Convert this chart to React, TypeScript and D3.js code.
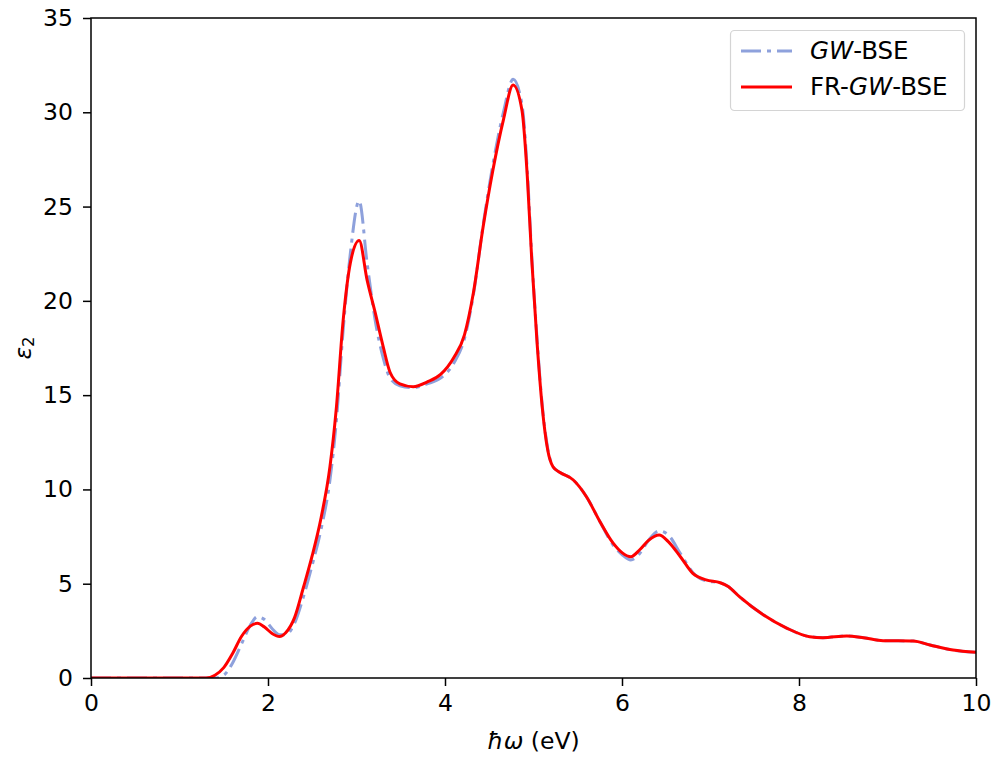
import { useEffect, useRef } from "react";
import * as d3 from "d3";

// photon energy grid (eV)
const energy = [0, 1.0, 1.3, 1.4, 1.5, 1.6, 1.7, 1.8, 1.88, 1.96, 2.05, 2.13, 2.2, 2.3, 2.4, 2.5, 2.6, 2.7, 2.77, 2.85, 2.93, 3.03, 3.12, 3.21, 3.3, 3.38, 3.49, 3.64, 3.8, 3.95, 4.1, 4.22, 4.32, 4.43, 4.54, 4.66, 4.77, 4.87, 4.93, 4.98, 5.04, 5.1, 5.16, 5.22, 5.3, 5.45, 5.6, 5.75, 5.9, 6.0, 6.1, 6.2, 6.3, 6.42, 6.52, 6.66, 6.8, 6.95, 7.11, 7.2, 7.33, 7.6, 7.86, 8.12, 8.27, 8.54, 8.73, 8.95, 9.29, 9.48, 9.74, 10]

// GW-BSE eps2
const gwBse = [0, 0, 0, 0, 0.15, 0.8, 1.8, 2.8, 3.25, 3.1, 2.6, 2.3, 2.3, 2.9, 4.3, 6.0, 7.9, 10.5, 13.5, 18.5, 22.5, 25.3, 22.0, 19.0, 17.0, 15.9, 15.5, 15.4, 15.6, 15.9, 16.7, 18.0, 20.3, 24.0, 27.2, 30.0, 31.75, 30.4, 26.9, 22.4, 18.0, 14.4, 12.2, 11.2, 10.9, 10.5, 9.6, 8.3, 7.05, 6.55, 6.26, 6.6, 7.3, 7.8, 7.6, 6.6, 5.6, 5.15, 5.05, 4.85, 4.3, 3.34, 2.65, 2.19, 2.14, 2.23, 2.14, 1.98, 1.96, 1.75, 1.48, 1.36]

// FR-GW-BSE eps2
const frGwBse = [0, 0, 0, 0.15, 0.55, 1.3, 2.2, 2.75, 2.9, 2.7, 2.35, 2.2, 2.4, 3.2, 4.8, 6.5, 8.5, 11.2, 14.2, 19.0, 22.0, 23.2, 21.1, 19.4, 17.6, 16.2, 15.6, 15.45, 15.7, 16.1, 17.0, 18.2, 20.4, 23.9, 26.9, 29.6, 31.45, 30.1, 26.6, 22.2, 17.8, 14.3, 12.1, 11.2, 10.9, 10.5, 9.6, 8.3, 7.15, 6.65, 6.43, 6.8, 7.3, 7.58, 7.25, 6.43, 5.55, 5.2, 5.05, 4.85, 4.3, 3.34, 2.65, 2.19, 2.14, 2.23, 2.14, 1.98, 1.96, 1.75, 1.48, 1.36]

const xTicks = [0, 2, 4, 6, 8, 10]
const yTicks = [0, 5, 10, 15, 20, 25, 30, 35]

function App() {
  const ref = useRef<SVGSVGElement>(null)

  useEffect(() => {
    draw()
    // eslint-disable-next-line
  }, [])

  function draw() {
    const svg = d3.select(ref.current)
    svg.selectAll("*").remove()
    const font = "DejaVu Sans, sans-serif"
    const fs = 23.5

    const left = 91, right = 976, top = 18, bottom = 678
    const x = d3.scaleLinear().domain([0, 10]).range([left, right])
    const y = d3.scaleLinear().domain([0, 35]).range([bottom, top])

    svg.append("defs").append("clipPath").attr("id", "plotclip")
      .append("rect").attr("x", left).attr("y", top)
      .attr("width", right - left).attr("height", bottom - top)

    const line = (vals: number[]) => d3.line<number>()
      .x((_, i) => x(energy[i]))
      .y(d => y(d))
      .curve(d3.curveMonotoneX)(vals)

    const g = svg.append("g").attr("clip-path", "url(#plotclip)")
    g.append("path")
      .attr("d", line(gwBse))
      .attr("fill", "none")
      .attr("stroke", "#8ea1dc")
      .attr("stroke-width", 3)
      .attr("stroke-dasharray", "20,6,4,6")
    g.append("path")
      .attr("d", line(frGwBse))
      .attr("fill", "none")
      .attr("stroke", "#ff0000")
      .attr("stroke-width", 3)

    // axes
    const xAxis = svg.append("g").attr("transform", `translate(0,${bottom})`)
      .call(d3.axisBottom(x).tickValues(xTicks).tickSize(8).tickPadding(8).tickFormat(d3.format("d")))
    const yAxis = svg.append("g").attr("transform", `translate(${left},0)`)
      .call(d3.axisLeft(y).tickValues(yTicks).tickSize(8).tickPadding(10).tickFormat(d3.format("d")))
    for (const ax of [xAxis, yAxis]) {
      ax.select(".domain").remove()
      ax.selectAll("line").attr("stroke", "#000").attr("stroke-width", 1.5)
      ax.selectAll("text").attr("font-family", font).attr("font-size", fs).attr("fill", "#000")
    }

    svg.append("rect")
      .attr("x", left).attr("y", top)
      .attr("width", right - left).attr("height", bottom - top)
      .attr("fill", "none").attr("stroke", "#000").attr("stroke-width", 1.5)

    // axis labels
    const xl = svg.append("text")
      .attr("x", (left + right) / 2).attr("y", 749)
      .attr("text-anchor", "middle")
      .attr("font-family", font).attr("font-size", fs)
    xl.append("tspan").attr("font-style", "italic").text("ħω")
    xl.append("tspan").text(" (eV)")

    const yl = svg.append("text")
      .attr("transform", `translate(31,${(top + bottom) / 2}) rotate(-90)`)
      .attr("text-anchor", "middle")
      .attr("font-family", font).attr("font-size", fs)
    yl.append("tspan").attr("font-style", "italic").text("ε")
    yl.append("tspan").attr("font-size", 16.5).attr("dy", 3).text("2")

    // legend
    const lg = svg.append("g")
    lg.append("rect")
      .attr("x", 730.5).attr("y", 30.5).attr("width", 234).attr("height", 80)
      .attr("rx", 4).attr("fill", "#fff").attr("fill-opacity", 0.8)
      .attr("stroke", "#d4d4d4").attr("stroke-width", 1.2)
    const entries = [
      { pre: "", it: "GW", post: "-BSE", color: "#8ea1dc", dash: "20,6,4,6" },
      { pre: "FR-", it: "GW", post: "-BSE", color: "#ff0000", dash: null },
    ]
    entries.forEach((e, i) => {
      const cy = 51 + i * 36
      lg.append("line")
        .attr("x1", 741).attr("x2", 792).attr("y1", cy).attr("y2", cy)
        .attr("stroke", e.color).attr("stroke-width", 3)
        .attr("stroke-dasharray", e.dash)
      const t = lg.append("text")
        .attr("x", 810).attr("y", cy + 8)
        .attr("font-family", font).attr("font-size", 24.5)
      if (e.pre) t.append("tspan").text(e.pre)
      t.append("tspan").attr("font-style", "italic").text(e.it)
      t.append("tspan").text(e.post)
    })
  }

  return (
    <div>
      <svg ref={ref} width={997} height={757}
        style={{ position: "fixed", left: 0, top: 0, background: "#fff" }}>
      </svg>
    </div>
  )
}

export default App
